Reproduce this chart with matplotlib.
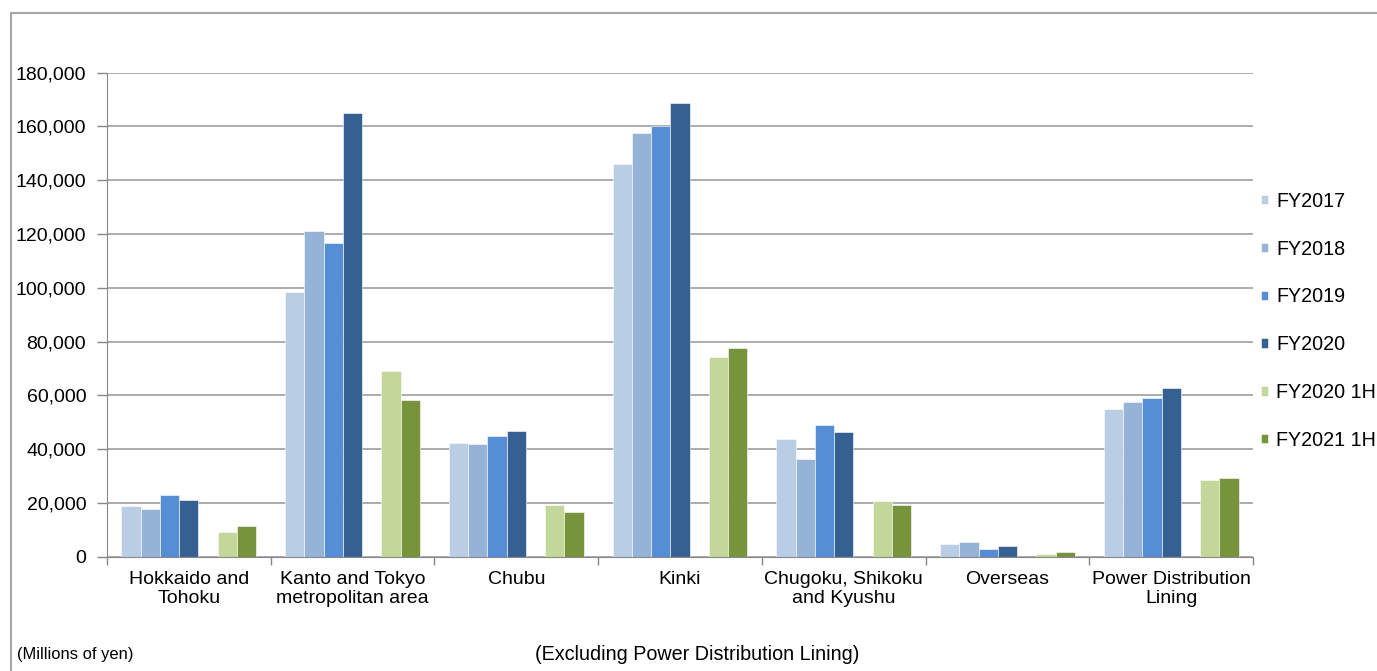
import numpy as np
import matplotlib
matplotlib.use('Agg')
import matplotlib.pyplot as plt
from matplotlib.patches import Rectangle
from matplotlib.ticker import FuncFormatter

plt.rcParams['font.family'] = ['Liberation Sans', 'DejaVu Sans']

categorias = ["Hokkaido and\nTohoku", "Kanto and Tokyo\nmetropolitan area", "Chubu", "Kinki",
              "Chugoku, Shikoku\nand Kyushu", "Overseas", "Power Distribution\nLining"]
series = ["FY2017", "FY2018", "FY2019", "FY2020", "FY2020 1H", "FY2021 1H"]
fy2017 = [18850, 98300, 42400, 146150, 43770, 4600, 54930]
fy2018 = [17850, 121200, 41800, 157700, 36330, 5350, 57640]
fy2019 = [22830, 116700, 45000, 160050, 48860, 2860, 59130]
fy2020 = [21090, 165100, 46750, 168830, 46260, 3970, 62850]
fy2020_1h = [9070, 68950, 19340, 74270, 20700, 1000, 28640]
fy2021_1h = [11530, 58150, 16500, 77600, 19100, 1750, 29270]
valores = [fy2017, fy2018, fy2019, fy2020, fy2020_1h, fy2021_1h]
colores = ['#B9CDE5', '#95B3D7', '#558ED5', '#376092', '#C4D79B', '#77933C']
# posicion de cada serie dentro del grupo (hay un hueco vacio entre FY2020 y FY2020 1H)
slots = [0, 1, 2, 3, 5, 6]

fig = plt.figure(figsize=(13.77, 6.71), dpi=100)
ax = fig.add_axes([107/1377, 114.3/671, (1253-107)/1377, (556.7-72.7)/671])

n_slots = 7
ancho = 1.0 / (n_slots + 1.5)
x = np.arange(len(categorias))
for serie, vals, col, s in zip(series, valores, colores, slots):
    offset = (s - (n_slots - 1) / 2) * ancho
    ax.bar(x + offset, vals, ancho, color=col, label=serie, edgecolor='white', linewidth=0.4)

ax.set_xlim(-0.5, len(categorias) - 0.5)
ax.set_ylim(0, 180000)
ax.set_yticks(np.arange(0, 180001, 20000))
ax.yaxis.set_major_formatter(FuncFormatter(lambda v, p: f"{int(v):,}"))
ax.yaxis.grid(True, color='#A6A6A6', linewidth=1.3)
ax.set_axisbelow(True)

ax.set_xticks(np.arange(-0.5, len(categorias)), labels=[])
ax.set_xticks(x, labels=categorias, minor=True)
ax.tick_params(axis='x', which='major', length=6, color='#888888', width=1)
ax.tick_params(axis='x', which='minor', length=0, pad=10, labelsize=14)
ax.tick_params(axis='y', length=7, color='#888888', width=1, labelsize=14, pad=8)

for lado in ['top', 'right']:
    ax.spines[lado].set_visible(False)
ax.spines['left'].set_color('#888888')
ax.spines['bottom'].set_color('#888888')

leg = ax.legend(loc='center left', bbox_to_anchor=(1.0, 0.4876), frameon=False, fontsize=14.2,
                handlelength=0.36, handleheight=0.36, handletextpad=0.41, labelspacing=1.46,
                borderpad=0.4, borderaxespad=0.0)

# marco exterior
fig.patches.append(Rectangle((11/1377, -0.01), 1.0, 1 - 13/671 + 0.01, transform=fig.transFigure,
                             fill=False, edgecolor='#A6A6A6', linewidth=1.5))

fig.text(17/1377, 1 - 655/671, "(Millions of yen)", fontsize=11.9, va='center', ha='left')
fig.text(697/1377, 1 - 655/671, "(Excluding Power Distribution Lining)", fontsize=14.2,
         va='center', ha='center')

fig.savefig("out.png", dpi=100)
